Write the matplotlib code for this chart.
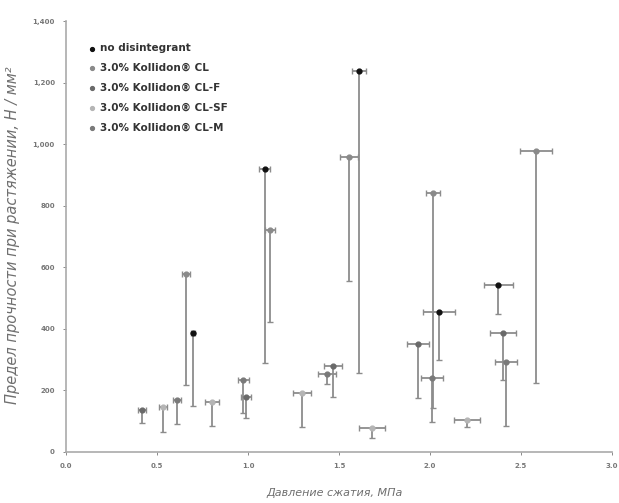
import matplotlib
matplotlib.use("Agg")
import matplotlib.pyplot as plt

series_names = ["no disintegrant", "3.0% Kollidon® CL", "3.0% Kollidon® CL-F",
                "3.0% Kollidon® CL-SF", "3.0% Kollidon® CL-M"]
series_colors = ["#111111", "#8a8a8a", "#6a6a6a", "#b5b5b5", "#7a7a7a"]

# pressure (x), strength at top marker (y), lower end of vertical bar, horizontal half-width
nd_x = [0.698, 1.093, 1.610, 2.049, 2.374]
nd_y = [387, 920, 1236, 455, 543]
nd_low = [150, 289, 257, 299, 449]
nd_xerr = [0.01, 0.03, 0.04, 0.09, 0.08]

cl_x = [0.659, 1.121, 1.555, 2.016, 2.582]
cl_y = [579, 722, 959, 842, 979]
cl_low = [218, 423, 556, 143, 224]
cl_xerr = [0.02, 0.025, 0.05, 0.04, 0.09]

clf_x = [0.418, 0.989, 1.467, 1.934, 2.401]
clf_y = [137, 179, 280, 351, 387]
clf_low = [94, 111, 179, 176, 234]
clf_xerr = [0.02, 0.03, 0.05, 0.06, 0.07]

clsf_x = [0.533, 0.802, 1.297, 1.681, 2.203]
clsf_y = [146, 163, 192, 78, 104]
clsf_low = [65, 85, 81, 46, 81]
clsf_xerr = [0.02, 0.04, 0.05, 0.07, 0.07]

clm_x = [0.610, 0.973, 1.434, 2.011, 2.418]
clm_y = [169, 234, 254, 241, 293]
clm_low = [91, 127, 220, 98, 85]
clm_xerr = [0.02, 0.03, 0.05, 0.06, 0.06]

xticks = [0.0, 0.5, 1.0, 1.5, 2.0, 2.5, 3.0]
xtick_labels = ["0.0", "0.5", "1.0", "1.5", "2.0", "2.5", "3.0"]
yticks = [0, 200, 400, 600, 800, 1000, 1200, 1400]
ytick_labels = ["0", "200", "400", "600", "800", "1,000", "1,200", "1,400"]

fig = plt.figure(figsize=(6.19, 5.03), dpi=100)
ax = fig.add_axes([66/619, 51/503, (612-66)/619, (452-21)/503])

all_series = [
    (nd_x, nd_y, nd_low, nd_xerr),
    (cl_x, cl_y, cl_low, cl_xerr),
    (clf_x, clf_y, clf_low, clf_xerr),
    (clsf_x, clsf_y, clsf_low, clsf_xerr),
    (clm_x, clm_y, clm_low, clm_xerr),
]

for (xs, ys, lows, xe), name, col in zip(all_series, series_names, series_colors):
    yerr = [[y - l for y, l in zip(ys, lows)], [0] * len(ys)]
    ax.errorbar(xs, ys, xerr=xe, yerr=yerr, fmt="none", ecolor="#8c8c8c",
                elinewidth=1.3, capsize=2, capthick=1.0, zorder=2)
    ax.scatter(xs, ys, s=12, color=col, zorder=3, label=name)

ax.set_xlim(0, 3.0)
ax.set_ylim(0, 1400)
ax.set_xticks(xticks)
ax.set_xticklabels(xtick_labels)
ax.set_yticks(yticks)
ax.set_yticklabels(ytick_labels)
ax.tick_params(axis="both", labelsize=5, colors="#777777", length=2, width=0.6)
ax.tick_params(axis="x", pad=6)
ax.tick_params(axis="y", pad=6)
for lbl in ax.get_xticklabels() + ax.get_yticklabels():
    lbl.set_fontweight("bold")
for s in ["top", "right"]:
    ax.spines[s].set_visible(False)
for s in ["left", "bottom"]:
    ax.spines[s].set_color("#aaaaaa")
    ax.spines[s].set_linewidth(1.2)

fig.text(335/619, 1 - 493/503, "Давление сжатия, МПа", fontsize=8, style="italic",
         color="#6f6f6f", ha="center", va="center")
fig.text(13/619, 1 - 235/503, "Предел прочности при растяжении, Н / мм²", fontsize=10.5,
         style="italic", color="#6f6f6f", ha="center", va="center", rotation=90)

leg = ax.legend(loc="upper left", bbox_to_anchor=(0.02, 0.97), frameon=False, fontsize=7.5,
                handletextpad=0.3, labelspacing=0.95, markerscale=0.8, handlelength=1.0)
for t in leg.get_texts():
    t.set_color("#333333")
    t.set_fontweight("bold")

fig.savefig("out.png", dpi=100)
